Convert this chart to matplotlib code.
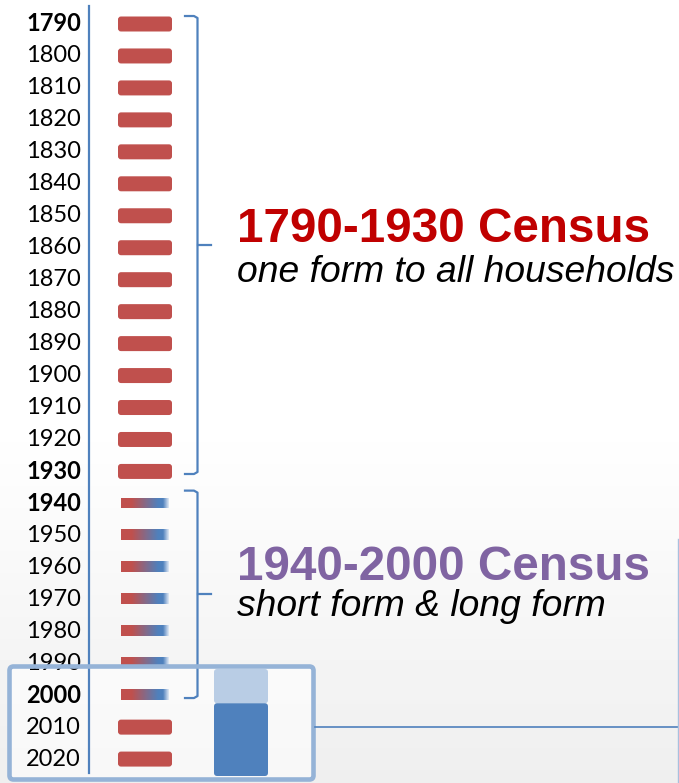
import numpy as np
import matplotlib.pyplot as plt
from matplotlib.patches import FancyBboxPatch
from matplotlib.colors import LinearSegmentedColormap

# census years and how each one was run
years = list(range(1790, 2030, 10))
bold_years = [1790, 1930, 1940, 2000]
long_form_years = [1940, 1950, 1960, 1970, 1980, 1990, 2000]
group_spans = [(1790, 1930), (1940, 2000)]
group_titles = ['1790-1930 Census', '1940-2000 Census']
group_subtitles = ['one form to all households', 'short form & long form']
# 2010/2020 block: share of the stacked bar (dark, light)
stack_values = [68, 32]

RED = '#C0504D'
BLUE = '#4F81BD'
LIGHT_BLUE = '#B9CDE5'
BOX_BLUE = '#95B3D7'
title_colors = ['#C00000', '#8064A2']

W, H = 679, 783
PX = 3.196                      # pixels per year
y_top = 1790 - 24 / PX
y_bot = y_top + H / PX

fig = plt.figure(figsize=(W / 100, H / 100), dpi=100)

# background: white fading to light grey at the bottom
bg = fig.add_axes([0, 0, 1, 1])
rows = np.arange(H)
shade = 1 - 0.065 * np.clip((rows - 420) / (H - 420), 0, 1)
bg.imshow(shade[:, None], cmap='gray', vmin=0, vmax=1, aspect='auto',
          extent=(0, W, H, 0))
# lighter fill of the highlight box sits under the timeline
bg.add_patch(FancyBboxPatch((9.5, 666.5), 304, 113,
                            boxstyle='round,pad=0,rounding_size=4',
                            fc=(1, 1, 1, 0.6), ec='none'))
bg.set_xlim(0, W)
bg.set_ylim(H, 0)
bg.set_axis_off()

# timeline axes: x in pixels, y in years
ax = fig.add_axes([0, 0, 1, 1])
ax.patch.set_alpha(0)
ax.set_axis_off()

ax.plot([89, 89], [y_top + 6 / PX, y_top + 773 / PX], color=BLUE, lw=1.6)

grad = LinearSegmentedColormap.from_list(
    'mix', [(0, RED), (0.22, RED), (0.78, BLUE), (0.88, BLUE), (1.0, '#dfe8f4')])
ramp = np.linspace(0, 1, 200)[None, :]

for yr in years:
    ax.text(81, yr, str(yr), ha='right', va='center', fontsize=17,
            family='Lato', fontweight='bold' if yr in bold_years else 'normal',
            color='black')
    if yr in long_form_years:
        h = 10 / PX
        ax.imshow(ramp, cmap=grad, aspect='auto',
                  extent=(121, 169, yr + h / 2, yr - h / 2), zorder=3)
    else:
        h = 15 / PX
        ax.add_patch(FancyBboxPatch((118, yr - h / 2), 54, h,
                                    boxstyle='round,pad=0,rounding_size=3',
                                    mutation_aspect=1 / PX, fc=RED, ec='none',
                                    zorder=3))

# braces for the two groups
pads = [(2.5, 0.8), (4.0, 0.9)]
for (start, end), (p0, p1) in zip(group_spans, pads):
    top, bot = start - p0, end + p1
    mid = (top + bot) / 2
    ax.plot([185, 194, 197.5, 197.5, 194, 185],
            [top, top, top + 2 / PX, bot - 2 / PX, bot, bot],
            color=BLUE, lw=1.6, solid_joinstyle='round')
    ax.plot([197.5, 211], [mid, mid], color=BLUE, lw=1.6)

ax.set_xlim(0, W)
ax.set_ylim(y_bot, y_top)

# overlay in pixels for text and the highlight box
ov = fig.add_axes([0, 0, 1, 1])
ov.patch.set_alpha(0)
ov.set_axis_off()
ov.set_xlim(0, W)
ov.set_ylim(H, 0)

title_base = [242, 580]
sub_base = [282, 616]
for t, s, c, tb, sb in zip(group_titles, group_subtitles, title_colors,
                           title_base, sub_base):
    ov.text(237, tb, t, fontsize=34.3, fontweight='bold', color=c,
            family='Liberation Sans', va='baseline', ha='left')
    ov.text(237, sb, s, fontsize=26.8, style='italic', color='black',
            family='Liberation Sans', va='baseline', ha='left')

ov.add_patch(FancyBboxPatch((9.5, 666.5), 304, 113,
                            boxstyle='round,pad=0,rounding_size=4',
                            fc='none', ec=BOX_BLUE, lw=3.3))
ov.plot([315, 678], [727, 727], color=BLUE, lw=1.2)
ov.plot([677.5, 677.5], [539, H], color='#a9c0de', lw=1)

# stacked bar inside the box
sb_ax = fig.add_axes([214 / W, (H - 776) / H, 54 / W, 107 / H])
sb_ax.set_axis_off()
sb_ax.set_xlim(0, 1)
total = sum(stack_values)
sb_ax.set_ylim(0, total)
asp = (54 / 1) / (107 / total)      # x-units vs y-units in pixels
bottom = 0
for val, col in zip(stack_values, [BLUE, LIGHT_BLUE]):
    sb_ax.add_patch(FancyBboxPatch((0, bottom), 1, val,
                                   boxstyle='round,pad=0,rounding_size=0.06',
                                   mutation_aspect=asp, fc=col, ec='none',
                                   zorder=2 if col == BLUE else 1))
    bottom += val

fig.savefig('out.png', dpi=100)
